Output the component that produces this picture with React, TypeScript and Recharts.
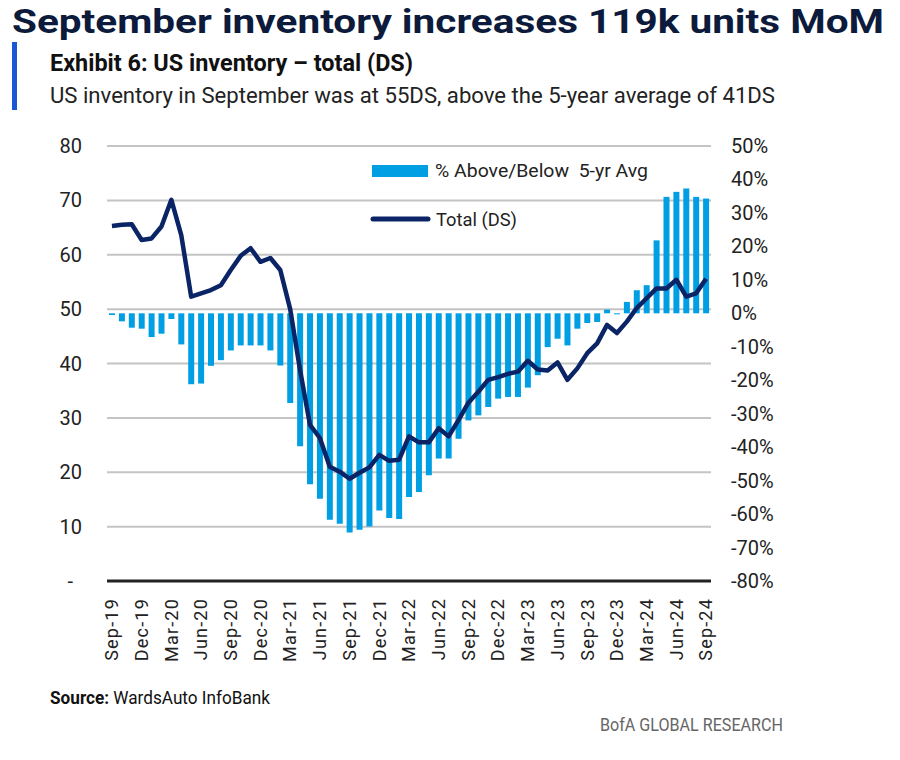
import { ComposedChart, Bar, Line, XAxis, YAxis, CartesianGrid } from 'recharts';

const months = [
  'Sep-19', 'Oct-19', 'Nov-19', 'Dec-19', 'Jan-20', 'Feb-20', 'Mar-20', 'Apr-20', 'May-20', 'Jun-20',
  'Jul-20', 'Aug-20', 'Sep-20', 'Oct-20', 'Nov-20', 'Dec-20', 'Jan-21', 'Feb-21', 'Mar-21', 'Apr-21',
  'May-21', 'Jun-21', 'Jul-21', 'Aug-21', 'Sep-21', 'Oct-21', 'Nov-21', 'Dec-21', 'Jan-22', 'Feb-22',
  'Mar-22', 'Apr-22', 'May-22', 'Jun-22', 'Jul-22', 'Aug-22', 'Sep-22', 'Oct-22', 'Nov-22', 'Dec-22',
  'Jan-23', 'Feb-23', 'Mar-23', 'Apr-23', 'May-23', 'Jun-23', 'Jul-23', 'Aug-23', 'Sep-23', 'Oct-23',
  'Nov-23', 'Dec-23', 'Jan-24', 'Feb-24', 'Mar-24', 'Apr-24', 'May-24', 'Jun-24', 'Jul-24', 'Aug-24',
  'Sep-24',
];

// days supply, left axis
const totalDS = [
  65.3, 65.5, 65.6, 62.7, 63.0, 65.2, 70.1, 63.6, 52.3, 52.9,
  53.5, 54.4, 57.2, 59.8, 61.2, 58.7, 59.4, 57.2, 50.0, 38.8,
  28.7, 26.3, 21.0, 20.1, 18.8, 19.9, 20.9, 23.2, 22.1, 22.3,
  26.6, 25.5, 25.5, 28.1, 26.6, 29.6, 32.8, 34.8, 37.0, 37.5,
  38.1, 38.5, 40.5, 38.9, 38.7, 40.2, 37.0, 39.1, 41.9, 43.7,
  47.1, 45.6, 47.7, 50.2, 52.0, 53.8, 53.8, 55.4, 52.3, 52.9,
  55.6,
];

// % above/below 5-yr avg, right axis
const pctVsAvg = [
  -0.5, -2.4, -4.3, -4.6, -7.1, -6.1, -1.7, -9.3, -21.2, -21.0,
  -15.7, -14.0, -11.1, -9.6, -9.6, -9.6, -11.1, -15.6, -26.8, -39.7,
  -51.1, -55.4, -61.7, -62.9, -65.5, -64.7, -63.7, -58.9, -61.2, -61.5,
  -54.9, -53.4, -48.4, -43.4, -43.4, -37.5, -32.0, -30.5, -28.0, -25.5,
  -25.0, -25.0, -22.2, -18.5, -10.1, -7.6, -9.6, -4.6, -2.9, -2.6,
  1.1, -0.3, 3.4, 6.9, 8.4, 21.8, 34.8, 36.3, 37.3, 34.8,
  34.3,
];

const leftTicks = [0, 10, 20, 30, 40, 50, 60, 70, 80];
const rightTicks = [-80, -70, -60, -50, -40, -30, -20, -10, 0, 10, 20, 30, 40, 50];

const data = months.map((m, i) => ({ month: m, total: totalDS[i], pct: pctVsAvg[i] }));

const FONT = 'Roboto, "Open Sans", sans-serif';
const NAVY = '#0b2466';
const CYAN = '#009fe3';

const LeftTick = ({ x, y, payload }: any) => (
  <text x={payload.value === 0 ? x - 9 : x} y={y} dy="0.35em" textAnchor="end" fontSize={20} fill="#222" fontFamily={FONT}>
    {payload.value === 0 ? '-' : payload.value}
  </text>
);

const RightTick = ({ x, y, payload }: any) => (
  <text x={x} y={y} dy="0.35em" textAnchor="start" fontSize={20} fill="#222" fontFamily={FONT}>
    {payload.value}%
  </text>
);

const MonthTick = ({ x, y, payload }: any) => {
  const ty = y + 17;
  return (
    <text x={x} y={ty} dy="0.35em" textAnchor="end" transform={`rotate(-90 ${x} ${ty})`}
      fontSize={18} fill="#222" fontFamily={FONT} letterSpacing={1.2}>
      {payload.value}
    </text>
  );
};

export default function App() {
  return (
    <div style={{ position: 'absolute', left: 0, top: 0, width: 900, height: 760, background: '#fff' }}>
      <div style={{ position: 'absolute', left: 0, top: 0 }}>
        <ComposedChart width={900} height={760} data={data} margin={{ top: 146, right: 0, bottom: 0, left: 0 }}>
          <CartesianGrid yAxisId="left" horizontal vertical={false} stroke="#c4c4c4" strokeWidth={2} />
          <XAxis dataKey="month" height={179} interval={2} tickLine={false} tickSize={0} tickMargin={0}
            axisLine={{ stroke: '#222', strokeWidth: 3 }} tick={<MonthTick />} />
          <YAxis yAxisId="left" orientation="left" width={107} domain={[0, 80]} ticks={leftTicks}
            axisLine={false} tickLine={false} tickSize={0} tickMargin={25} tick={<LeftTick />} />
          <YAxis yAxisId="right" orientation="right" width={189} domain={[-80, 50]} ticks={rightTicks}
            axisLine={false} tickLine={false} tickSize={0} tickMargin={20} tick={<RightTick />} />
          <Bar yAxisId="right" dataKey="pct" fill={CYAN} barSize={6} isAnimationActive={false} />
          <Line yAxisId="left" dataKey="total" type="linear" stroke={NAVY} strokeWidth={4.5} dot={false}
            strokeLinejoin="round" isAnimationActive={false} />
        </ComposedChart>
      </div>
      <svg width={900} height={760} style={{ position: 'absolute', left: 0, top: 0, pointerEvents: 'none' }} fontFamily={FONT}>
        <text x={12} y={33} fontSize={34} fontWeight={700} fill="#0c1a3b" textLength={872} lengthAdjust="spacingAndGlyphs">
          September inventory increases 119k units MoM
        </text>
        <rect x={12} y={42} width={5} height={68} fill="#1a56d6" />
        <text x={50} y={71} fontSize={24} fontWeight={700} fill="#111" textLength={363} lengthAdjust="spacingAndGlyphs">
          Exhibit 6: US inventory – total (DS)
        </text>
        <text x={50} y={103} fontSize={22} fill="#222" textLength={725} lengthAdjust="spacingAndGlyphs">
          US inventory in September was at 55DS, above the 5-year average of 41DS
        </text>

        <rect x={372} y={165} width={56} height={12} fill={CYAN} />
        <text x={435} y={177} fontSize={19} fill="#222" textLength={213} lengthAdjust="spacingAndGlyphs" style={{ whiteSpace: 'pre' }}>
          {'% Above/Below  5-yr Avg'}
        </text>
        <line x1={373} x2={428} y1={219} y2={219} stroke={NAVY} strokeWidth={5} strokeLinecap="round" />
        <text x={436} y={226} fontSize={19} fill="#222" textLength={81} lengthAdjust="spacingAndGlyphs">
          Total (DS)
        </text>

        <text x={50} y={704} fontSize={18} fill="#111" textLength={220} lengthAdjust="spacingAndGlyphs">
          <tspan fontWeight={700}>Source:</tspan> WardsAuto InfoBank
        </text>
        <text x={600} y={731} fontSize={18} fill="#666" textLength={183} lengthAdjust="spacingAndGlyphs">
          BofA GLOBAL RESEARCH
        </text>
      </svg>
    </div>
  );
}
